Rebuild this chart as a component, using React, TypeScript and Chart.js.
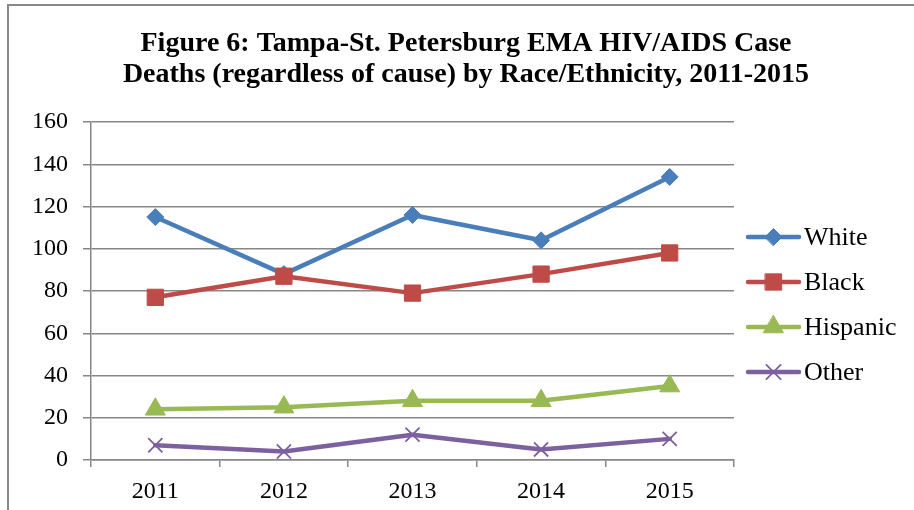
import React, { useEffect, useRef } from 'react';
import { Chart, registerables, PointElement } from 'chart.js';

Chart.register(...registerables);

// ---- data ----
const years = ['2011', '2012', '2013', '2014', '2015'];
const seriesNames = ['White', 'Black', 'Hispanic', 'Other'];
const whiteDeaths = [115, 88, 116, 104, 134];
const blackDeaths = [77, 87, 79, 88, 98];
const hispanicDeaths = [24, 25, 28, 28, 35];
const otherDeaths = [7, 4, 12, 5, 10];
const titleLines = [
  'Figure 6: Tampa-St. Petersburg EMA HIV/AIDS Case',
  'Deaths (regardless of cause) by Race/Ethnicity, 2011-2015',
];
const yMin = 0;
const yMax = 160;
const yStep = 20;

// ---- styles ----
const FONT = "'Liberation Serif', 'Times New Roman', serif";
const GRID = '#878787';
const BLUE = '#4A7EBB';
const RED = '#BE4B48';
const GREEN = '#98B954';
const PURPLE = '#7D60A0';

const sideLegend = {
  id: 'sideLegend',
  afterDraw(chart: any) {
    const ctx = chart.ctx;
    const area = chart.chartArea;
    const gap = 45;
    const x0 = area.right + 12;
    const lineLen = 55;
    const centerY = (area.top + area.bottom) / 2 + 13.5;
    const yStart = centerY - 1.5 * gap;
    chart.data.datasets.forEach((ds: any, i: number) => {
      const y = yStart + i * gap;
      ctx.save();
      ctx.strokeStyle = ds.borderColor;
      ctx.lineWidth = ds.borderWidth;
      ctx.lineCap = 'round';
      ctx.beginPath();
      ctx.moveTo(x0 + 2, y);
      ctx.lineTo(x0 + lineLen - 2, y);
      ctx.stroke();
      const pt: any = new PointElement({
        x: x0 + lineLen / 2,
        y,
        options: {
          pointStyle: ds.pointStyle,
          radius: ds.pointRadius,
          rotation: 0,
          borderWidth: ds.pointBorderWidth,
          backgroundColor: ds.pointBackgroundColor,
          borderColor: ds.pointBorderColor,
        },
      } as any);
      pt.draw(ctx);
      ctx.fillStyle = '#000';
      ctx.font = `26px ${FONT}`;
      ctx.textBaseline = 'middle';
      ctx.textAlign = 'left';
      ctx.fillText(ds.label, x0 + lineLen + 3, y + 1);
      ctx.restore();
    });
  },
};

function mkSeries(label: string, data: number[], color: string, style: string, radius: number, order: number, bw = 1) {
  return {
    label,
    data,
    borderColor: color,
    backgroundColor: color,
    borderWidth: 4.5,
    borderJoinStyle: 'round',
    borderCapStyle: 'round',
    pointStyle: style,
    pointRadius: radius,
    pointHoverRadius: radius,
    pointBackgroundColor: color,
    pointBorderColor: color,
    pointBorderWidth: bw,
    tension: 0,
    order,
  };
}

export default function App() {
  const ref = useRef<HTMLCanvasElement | null>(null);

  useEffect(() => {
    if (!ref.current) return;
    const chart = new Chart(ref.current, {
      type: 'line',
      data: {
        labels: years,
        datasets: [
          mkSeries(seriesNames[0], whiteDeaths, BLUE, 'rectRot', 8.5, 4),
          mkSeries(seriesNames[1], blackDeaths, RED, 'rect', 11.5, 3),
          mkSeries(seriesNames[2], hispanicDeaths, GREEN, 'triangle', 11.5, 2),
          mkSeries(seriesNames[3], otherDeaths, PURPLE, 'crossRot', 10, 1, 1.8),
        ] as any,
      },
      options: {
        responsive: true,
        maintainAspectRatio: false,
        animation: false,
        layout: { padding: { left: 18, right: 0, top: 0, bottom: 0 } },
        plugins: {
          legend: { display: false },
          tooltip: { enabled: false },
          title: {
            display: true,
            text: titleLines,
            color: '#000',
            font: { family: FONT, size: 28, weight: 'bold', lineHeight: 1.1286 },
            padding: { top: 27.6, bottom: 31.2 },
          },
        },
        scales: {
          x: {
            type: 'category',
            offset: true,
            grid: {
              offset: true,
              drawOnChartArea: false,
              drawTicks: true,
              tickLength: 7,
              color: GRID,
              lineWidth: 1.5,
            },
            border: { display: true, color: GRID, width: 1.5 },
            ticks: {
              color: '#000',
              font: { family: FONT, size: 24 },
              padding: 10,
              maxRotation: 0,
              autoSkip: false,
            },
            afterFit: (s: any) => {
              s.height = 50;
            },
          },
          y: {
            min: yMin,
            max: yMax,
            ticks: {
              stepSize: yStep,
              color: '#000',
              font: { family: FONT, size: 24 },
              padding: 15,
            },
            grid: { color: GRID, lineWidth: 1.5, tickLength: 8, drawTicks: true },
            border: { display: true, color: GRID, width: 1.5 },
            afterFit: (s: any) => {
              s.width = 73;
            },
          },
          legendSpace: {
            type: 'linear',
            position: 'right',
            display: true,
            grid: { display: false, drawTicks: false },
            border: { display: false },
            ticks: { display: false },
            afterFit: (s: any) => {
              s.width = 180;
            },
          },
        } as any,
      },
      plugins: [sideLegend],
    } as any);
    return () => chart.destroy();
  }, []);

  return (
    <div style={{ position: 'absolute', left: 0, top: 0, width: 914, height: 510, overflow: 'hidden', background: '#fff' }}>
      <div
        style={{
          position: 'absolute',
          left: 7,
          top: 4,
          width: 1000,
          height: 600,
          borderLeft: `2px solid ${GRID}`,
          borderTop: `2px solid ${GRID}`,
          boxSizing: 'border-box',
        }}
      />
      <div style={{ position: 'absolute', left: 0, top: 0, width: 914, height: 510 }}>
        <canvas ref={ref} />
      </div>
    </div>
  );
}
